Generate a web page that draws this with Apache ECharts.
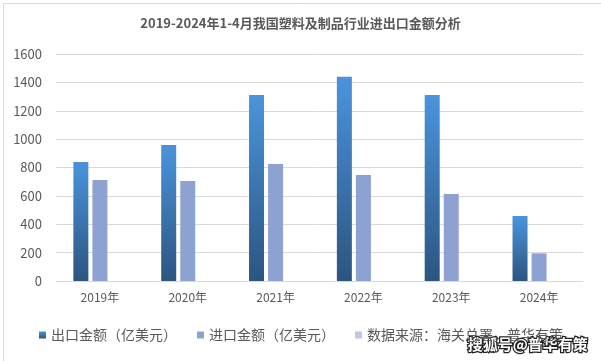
<!DOCTYPE html>
<html><head><meta charset="utf-8">
<script src="https://cdn.jsdelivr.net/npm/echarts@6/dist/echarts.min.js"></script>
<style>html,body{margin:0;padding:0;background:#fff}#c{width:601px;height:361px}</style>
</head><body><div id="c"></div>
<script>
var categories = ['2019年','2020年','2021年','2022年','2023年','2024年'];
var exportValues = [838, 958, 1311, 1440, 1311, 458];
var importValues = [712, 705, 825, 747, 613, 195];
var sourceValues = [null, null, null, null, null, null];
var yTicks = {min: 0, max: 1600, interval: 200};

var chart = echarts.init(document.getElementById('c'));
var font = '"Microsoft YaHei","Noto Sans CJK SC","DejaVu Sans",sans-serif';
chart.setOption({
  animation: false,
  backgroundColor: '#fff',
  title: {text: '2019-2024年1-4月我国塑料及制品行业进出口金额分析', left: 'center', top: 12,
    textStyle: {fontSize: 13, fontWeight: 'bold', color: '#595959', fontFamily: font}},
  graphic: [
    {type: 'rect', left: 1, top: 1, shape: {width: 598, height: 358}, style: {fill: 'none', stroke: '#d9d9d9', lineWidth: 1}},
    {type: 'text', right: 12, bottom: 8, style: {text: '搜狐号@普华有策', fill: '#fff', stroke: '#222', lineWidth: 2.5, font: 'bold 15px ' + font}}
  ],
  legend: {bottom: 14, left: 34, itemWidth: 7, itemHeight: 7, itemGap: 20, icon: 'rect',
    textStyle: {fontSize: 14, color: '#595959', fontFamily: font},
    data: ['出口金额（亿美元）', '进口金额（亿美元）', '数据来源：海关总署，普华有策']},
  grid: {left: 56, right: 18, top: 54, bottom: 80},
  xAxis: {type: 'category', data: categories,
    axisLine: {lineStyle: {color: '#d9d9d9'}}, axisTick: {show: false},
    axisLabel: {color: '#595959', fontSize: 12, fontFamily: font, margin: 10}},
  yAxis: {type: 'value', min: yTicks.min, max: yTicks.max, interval: yTicks.interval,
    axisLine: {show: false}, axisTick: {show: false},
    splitLine: {lineStyle: {color: '#d9d9d9'}},
    axisLabel: {color: '#595959', fontSize: 13, fontFamily: font, margin: 14,
      formatter: function (v) { return String(v); }}},
  series: [
    {name: '出口金额（亿美元）', type: 'bar', barWidth: 15, barGap: '27%', data: exportValues,
      itemStyle: {color: new echarts.graphic.LinearGradient(0, 0, 0, 1, [
        {offset: 0, color: '#4a94dc'}, {offset: 1, color: '#2c5580'}])}},
    {name: '进口金额（亿美元）', type: 'bar', barWidth: 15, data: importValues,
      itemStyle: {color: '#8ea2d2'}},
    {name: '数据来源：海关总署，普华有策', type: 'bar', barWidth: 15, data: sourceValues,
      itemStyle: {color: '#bcc7e6'}}
  ]
});
</script></body></html>
